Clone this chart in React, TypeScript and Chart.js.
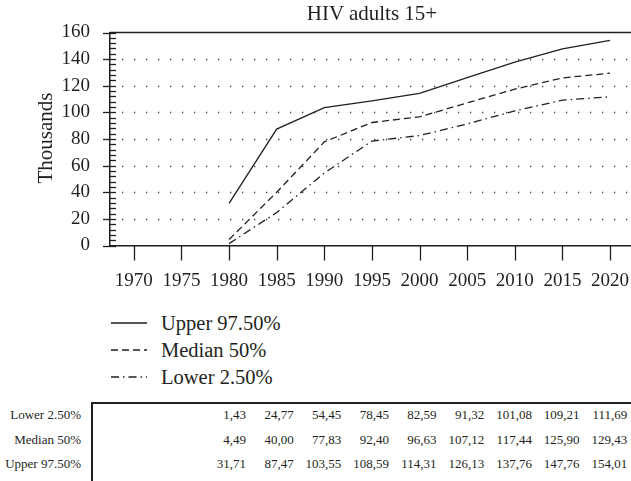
import React, { useEffect, useRef } from "react";
import { Chart, registerables } from "chart.js";

Chart.register(...registerables);

const chartTitle = "HIV adults 15+";
const yAxisTitle = "Thousands";
const years = [1980, 1985, 1990, 1995, 2000, 2005, 2010, 2015, 2020];
const xTickValues = [1970, 1975, 1980, 1985, 1990, 1995, 2000, 2005, 2010, 2015, 2020];
const yTickValues = [0, 20, 40, 60, 80, 100, 120, 140, 160];
const lowerName = "Lower 2.50%";
const medianName = "Median 50%";
const upperName = "Upper 97.50%";
const lower = [1.43, 24.77, 54.45, 78.45, 82.59, 91.32, 101.08, 109.21, 111.69];
const median = [4.49, 40.0, 77.83, 92.4, 96.63, 107.12, 117.44, 125.9, 129.43];
const upper = [31.71, 87.47, 103.55, 108.59, 114.31, 126.13, 137.76, 147.76, 154.01];

const INK = "#231f20";
const FONT = '"Liberation Serif", "Times New Roman", serif';
const CANVAS_W = 631;
const CANVAS_H = 300;
const MEDIAN_DASH = [7, 4];
const LOWER_DASH = [8, 4, 1.5, 4];

const toPoints = (vals: number[]) => years.map((y, i) => ({ x: y, y: vals[i] }));
const fmt = (v: number) => v.toFixed(2).replace(".", ",");

const decorPlugin = {
  id: "decor",
  beforeDatasetsDraw(chart: any) {
    const { ctx, chartArea } = chart;
    const xs = chart.scales.x;
    const ys = chart.scales.y;
    const { left, right, bottom } = chartArea;
    ctx.save();
    // dotted horizontal grid
    ctx.strokeStyle = "#444";
    ctx.lineWidth = 1.3;
    ctx.setLineDash([1.3, 10.7]);
    yTickValues.forEach((v) => {
      if (v === 0 || v === 160) return;
      const py = Math.round(ys.getPixelForValue(v)) + 0.5;
      ctx.beginPath();
      ctx.moveTo(left + 12, py);
      ctx.lineTo(right, py);
      ctx.stroke();
    });
    ctx.setLineDash([]);
    // top frame line
    ctx.strokeStyle = INK;
    ctx.lineWidth = 1.5;
    const top160 = ys.getPixelForValue(160);
    ctx.beginPath();
    ctx.moveTo(left, top160);
    ctx.lineTo(right, top160);
    ctx.stroke();
    // y ticks
    ctx.lineWidth = 1.3;
    for (let v = 0; v <= 160; v += 4) {
      const py = Math.round(ys.getPixelForValue(v)) + 0.5;
      const major = v % 20 === 0;
      ctx.beginPath();
      ctx.moveTo(major ? left - 7 : left, py);
      ctx.lineTo(left + 6, py);
      ctx.stroke();
    }
    // x ticks
    xTickValues.forEach((v) => {
      const px = Math.round(xs.getPixelForValue(v)) + 0.5;
      ctx.beginPath();
      ctx.moveTo(px, bottom);
      ctx.lineTo(px, bottom + 15);
      ctx.stroke();
    });
    ctx.restore();
  },
};

function LegendSample({ dash }: { dash: number[] }) {
  return (
    <svg width={36} height={4} style={{ display: "block" }}>
      <line x1={0} y1={2} x2={36} y2={2} stroke={INK} strokeWidth={1.3} strokeDasharray={dash.length ? dash.join(" ") : undefined} />
    </svg>
  );
}

export default function App() {
  const ref = useRef<HTMLCanvasElement | null>(null);

  useEffect(() => {
    if (!ref.current) return;
    const common = { borderColor: INK, borderWidth: 1.3, pointRadius: 0, fill: false, tension: 0 };
    const chart = new Chart(ref.current, {
      type: "line",
      data: {
        datasets: [
          { label: upperName, data: toPoints(upper), ...common },
          { label: medianName, data: toPoints(median), borderDash: MEDIAN_DASH, ...common },
          { label: lowerName, data: toPoints(lower), borderDash: LOWER_DASH, ...common },
        ],
      },
      options: {
        animation: false,
        responsive: false,
        devicePixelRatio: 1,
        layout: { padding: { top: 32.5, left: 0, right: 0, bottom: 0 } },
        plugins: { legend: { display: false }, title: { display: false }, tooltip: { enabled: false } },
        scales: {
          x: {
            type: "linear",
            min: 1967.5,
            max: 2022.2,
            afterBuildTicks: (s: any) => {
              s.ticks = xTickValues.map((v) => ({ value: v }));
            },
            afterFit: (s: any) => {
              s.height = CANVAS_H - 245.5;
              s.paddingLeft = 0;
              s.paddingRight = 0;
            },
            grid: { display: false },
            border: { display: true, color: INK, width: 1.5 },
            ticks: {
              color: INK,
              font: { family: FONT, size: 19 },
              padding: 16,
              maxRotation: 0,
              autoSkip: false,
              callback: (v: any) => String(v),
            },
          },
          y: {
            min: 0,
            max: 160,
            afterBuildTicks: (s: any) => {
              s.ticks = yTickValues.map((v) => ({ value: v }));
            },
            afterFit: (s: any) => {
              s.width = 110;
            },
            grid: { display: false },
            border: { display: true, color: INK, width: 1.5 },
            ticks: {
              color: INK,
              font: { family: FONT, size: 19 },
              padding: 12,
              callback: (v: any) => String(v),
            },
          },
        },
      },
      plugins: [decorPlugin],
    } as any);
    return () => chart.destroy();
  }, []);

  const rowsLegend = [
    { name: upperName, dash: [] as number[] },
    { name: medianName, dash: MEDIAN_DASH },
    { name: lowerName, dash: LOWER_DASH },
  ];
  const tableRows = [
    { name: lowerName, vals: lower },
    { name: medianName, vals: median },
    { name: upperName, vals: upper },
  ];
  const colW = 47.65;
  const firstColRight = 246;

  return (
    <div style={{ position: "absolute", left: 0, top: 0, width: 631, height: 481, background: "#fff", fontFamily: FONT, color: INK, overflow: "hidden" }}>
      <canvas ref={ref} width={CANVAS_W} height={CANVAS_H} style={{ position: "absolute", left: 0, top: 0, width: CANVAS_W, height: CANVAS_H }} />
      <div style={{ position: "absolute", left: 110, width: 524, top: 1, textAlign: "center", fontSize: 21, lineHeight: "24px" }}>{chartTitle}</div>
      <div style={{ position: "absolute", left: 45 - 60, top: 138 - 12, width: 120, height: 24, lineHeight: "24px", textAlign: "center", fontSize: 21, transform: "rotate(-90deg)" }}>{yAxisTitle}</div>
      {rowsLegend.map((r, i) => (
        <div key={r.name} style={{ position: "absolute", left: 111, top: 323 + i * 27 - 13, height: 26, display: "flex", alignItems: "center" }}>
          <LegendSample dash={r.dash} />
          <span style={{ marginLeft: 14, fontSize: 20.5, lineHeight: "26px", whiteSpace: "nowrap" }}>{r.name}</span>
        </div>
      ))}
      <div style={{ position: "absolute", left: 91, top: 402, width: 540, height: 1.5, background: INK }} />
      <div style={{ position: "absolute", left: 91, top: 402, width: 1.5, height: 79, background: INK }} />
      {tableRows.map((r, i) => (
        <React.Fragment key={r.name}>
          <div style={{ position: "absolute", left: 0, width: 81, top: 415 + i * 24.5 - 9, height: 18, lineHeight: "18px", fontSize: 13, textAlign: "right", whiteSpace: "nowrap" }}>{r.name}</div>
          {r.vals.map((v, j) => (
            <div key={j} style={{ position: "absolute", left: firstColRight + j * colW - 50, width: 50, top: 415 + i * 24.5 - 9, height: 18, lineHeight: "18px", fontSize: 13, textAlign: "right", whiteSpace: "nowrap" }}>{fmt(v)}</div>
          ))}
        </React.Fragment>
      ))}
    </div>
  );
}
